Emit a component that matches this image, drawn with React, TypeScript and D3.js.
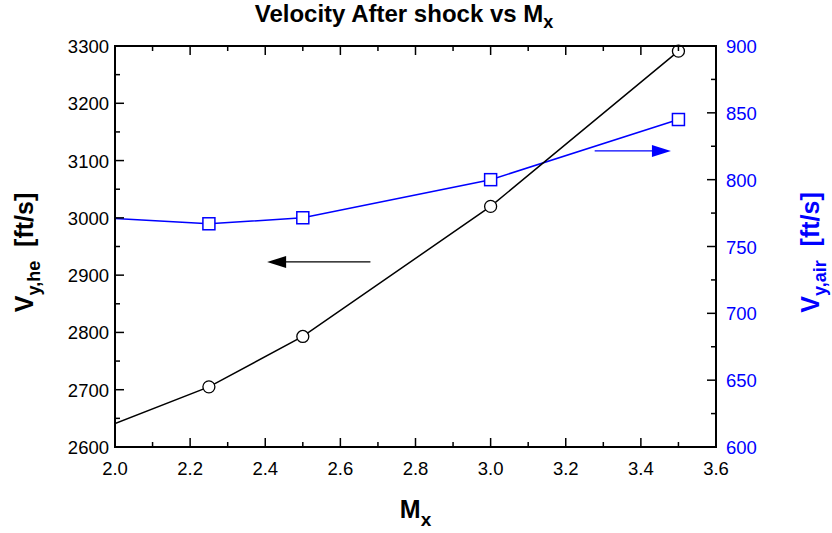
import * as d3 from 'd3';

// Mach number for each computed case
const machValues = [2.0, 2.25, 2.5, 3.0, 3.5];
// velocity after shock, helium (left axis)
const velHelium = [2641, 2705, 2793, 3020, 3291];
// velocity after shock, air (right axis)
const velAir = [771, 767, 771.5, 800, 845];

const xTicks = [2.0, 2.2, 2.4, 2.6, 2.8, 3.0, 3.2, 3.4, 3.6];
const leftTicks = [2600, 2700, 2800, 2900, 3000, 3100, 3200, 3300];
const rightTicks = [600, 650, 700, 750, 800, 850, 900];

const W = 832;
const H = 533;
const margin = { top: 46, right: 116, bottom: 86, left: 115 };
const FONT = 'Liberation Sans, Arial, Helvetica, sans-serif';
const BLUE = '#0000ff';

const App = () => {
  const iw = W - margin.left - margin.right;
  const ih = H - margin.top - margin.bottom;

  const x = d3.scaleLinear().domain([2.0, 3.6]).range([0, iw]);
  const yL = d3.scaleLinear().domain([2600, 3300]).range([ih, 0]);
  const yR = d3.scaleLinear().domain([600, 900]).range([ih, 0]);

  const lineL = d3.line<number>().x((d, i) => x(machValues[i])).y(d => yL(d));
  const lineR = d3.line<number>().x((d, i) => x(machValues[i])).y(d => yR(d));

  const minorX = d3.range(2.0, 3.601, 0.1);
  const minorL = d3.range(2600, 3301, 50);
  const minorR = d3.range(600, 901, 25);

  // markers only inside the frame (first point sits on the axis)
  const marked = machValues.map((m, i) => i).filter(i => machValues[i] > 2.0);

  // arrow annotations (data coordinates)
  const arrowL = { y: 2923, x1: 2.68, x2: 2.405 };
  const arrowR = { y: 821.5, x1: 3.277, x2: 3.48 };

  return (
    <svg width={W} height={H} style={{ position: 'absolute', left: 0, top: 0 }}>
      <rect width={W} height={H} fill="#fff" />
      <text x={404} y={22} textAnchor="middle" fontFamily={FONT} fontWeight="bold" fontSize={24}>
        Velocity After shock vs M<tspan fontSize={18} dy={6}>x</tspan>
      </text>
      <g transform={`translate(${margin.left},${margin.top})`}>
        <defs>
          <clipPath id="plot">
            <rect width={iw} height={ih} />
          </clipPath>
        </defs>

        {/* series */}
        <g clipPath="url(#plot)">
          <path d={lineR(velAir) || ''} fill="none" stroke={BLUE} strokeWidth={1.5} />
          <path d={lineL(velHelium) || ''} fill="none" stroke="#000" strokeWidth={1.5} />
        </g>
        {marked.map(i => (
          <rect key={'s' + i} x={x(machValues[i]) - 6} y={yR(velAir[i]) - 6} width={12} height={12}
            fill="#fff" stroke={BLUE} strokeWidth={1.5} />
        ))}
        {marked.map(i => (
          <circle key={'c' + i} cx={x(machValues[i])} cy={yL(velHelium[i])} r={6}
            fill="#fff" stroke="#000" strokeWidth={1.3} />
        ))}

        {/* arrows */}
        <line x1={x(arrowL.x1)} x2={x(arrowL.x2) + 18} y1={yL(arrowL.y)} y2={yL(arrowL.y)} stroke="#000" strokeWidth={1.2} />
        <path d={`M${x(arrowL.x2)},${yL(arrowL.y)} l19,-6 l0,12 Z`} fill="#000" />
        <line x1={x(arrowR.x1)} x2={x(arrowR.x2) - 18} y1={yR(arrowR.y)} y2={yR(arrowR.y)} stroke={BLUE} strokeWidth={1.2} />
        <path d={`M${x(arrowR.x2)},${yR(arrowR.y)} l-19,-6 l0,12 Z`} fill={BLUE} />

        {/* frame */}
        <rect width={iw} height={ih} fill="none" stroke="#000" strokeWidth={2} />

        {/* x ticks bottom + top, inward */}
        {minorX.map((v, i) => {
          const len = i % 2 === 0 ? 9 : 5;
          return (
            <g key={'xt' + i}>
              <line x1={x(v)} x2={x(v)} y1={ih} y2={ih - len} stroke="#000" strokeWidth={1.5} />
              <line x1={x(v)} x2={x(v)} y1={0} y2={len} stroke="#000" strokeWidth={1.5} />
            </g>
          );
        })}
        {xTicks.map(v => (
          <text key={'xl' + v} x={x(v)} y={ih + 28} textAnchor="middle" fontFamily={FONT} fontSize={18.5}>
            {d3.format('.1f')(v)}
          </text>
        ))}

        {/* left ticks */}
        {minorL.map((v, i) => (
          <line key={'lt' + i} x1={0} x2={i % 2 === 0 ? 9 : 5} y1={yL(v)} y2={yL(v)} stroke="#000" strokeWidth={1.5} />
        ))}
        {leftTicks.map(v => (
          <text key={'ll' + v} x={-6} y={yL(v) + 7} textAnchor="end" fontFamily={FONT} fontSize={18.5}>{v}</text>
        ))}

        {/* right ticks */}
        {minorR.map((v, i) => (
          <line key={'rt' + i} x1={iw} x2={iw - (i % 2 === 0 ? 9 : 5)} y1={yR(v)} y2={yR(v)} stroke="#000" strokeWidth={1.5} />
        ))}
        {rightTicks.map(v => (
          <text key={'rl' + v} x={iw + 10} y={yR(v) + 7} fontFamily={FONT} fontSize={18.5} fill={BLUE}>{v}</text>
        ))}

        {/* axis titles */}
        <text x={iw / 2} y={ih + 71} textAnchor="middle" fontFamily={FONT} fontWeight="bold" fontSize={25}>
          M<tspan fontSize={19} dy={8}>x</tspan>
        </text>
        <text transform={`translate(${33 - margin.left},${ih / 2 + 6}) rotate(-90)`} textAnchor="middle" fontFamily={FONT} fontWeight="bold" fontSize={25}>
          V<tspan fontSize={18} dy={7}>y,he</tspan><tspan dy={-7}>{'\u00a0\u00a0[ft/s]'}</tspan>
        </text>
        <text transform={`translate(${819 - margin.left},${ih / 2 + 6}) rotate(-90)`} textAnchor="middle" fontFamily={FONT} fontWeight="bold" fontSize={25} fill={BLUE}>
          V<tspan fontSize={18} dy={7}>y,air</tspan><tspan dy={-7}>{'\u00a0\u00a0[ft/s]'}</tspan>
        </text>
      </g>
    </svg>
  );
};

export default App;
